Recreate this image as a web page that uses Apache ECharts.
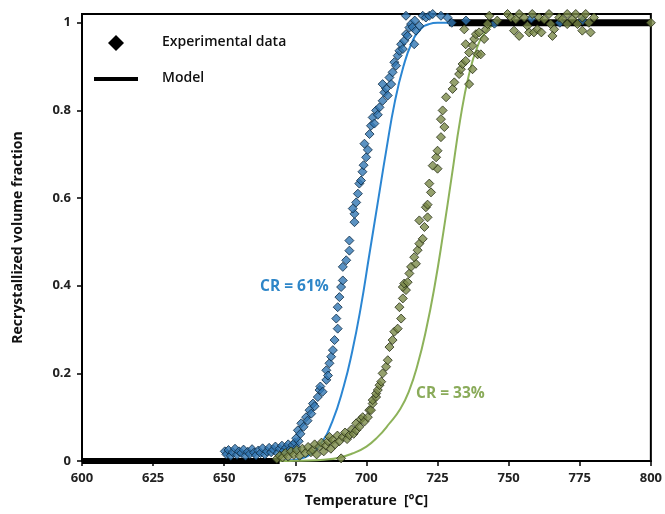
<!DOCTYPE html>
<html><head><meta charset="utf-8">
<script src="https://cdn.jsdelivr.net/npm/echarts@6/dist/echarts.min.js"></script>
<style>html,body{margin:0;padding:0;background:#fff}#c{width:665px;height:514px}</style>
</head><body><div id="c"></div>
<script>
const xTicks = [600,625,650,675,700,725,750,775,800];
const yTicks = [0,0.2,0.4,0.6,0.8,1];

const blueExp = [
[650.2,0.022],[650.8,0.015],[651.5,0.025],[652.3,0.012],[653.0,0.020],[653.8,0.028],[654.5,0.014],[655.2,0.022],[656.0,0.018],[656.8,0.026],[657.5,0.012],[658.3,0.021],[659.0,0.016],[659.8,0.027],[660.5,0.019],[661.2,0.013],[662.0,0.024],[662.8,0.018],[663.5,0.029],[664.3,0.015],[665.0,0.022],[665.8,0.030],[666.5,0.020],[667.3,0.026],[668.0,0.033],[668.8,0.018],[669.5,0.028],[670.3,0.035],[671.0,0.024],[671.8,0.031],[672.5,0.038],[673.3,0.027],[674.0,0.036],[674.8,0.042],[675.5,0.030],[676.2,0.045],
[675.3,0.052],[675.9,0.07],[676.8,0.062],[677.1,0.086],[677.9,0.078],[678.8,0.10],[679.3,0.092],[680.0,0.116],[680.6,0.108],[681.2,0.131],[681.8,0.125],[682.9,0.146],[683.5,0.162],[683.8,0.170],[684.6,0.158],[685.9,0.185],[685.9,0.207],[686.5,0.195],[687.0,0.223],[687.6,0.238],[688.2,0.253],[688.8,0.276],[689.4,0.325],[689.9,0.302],[689.9,0.351],[690.5,0.374],[691.1,0.397],[691.7,0.412],[691.7,0.443],[692.9,0.458],[694.0,0.48],[694.0,0.503],[695.8,0.545],[695.8,0.564],[695.2,0.576],[696.4,0.59],[697.0,0.61],[697.5,0.633],[698.1,0.64],[698.6,0.66],[699.0,0.675],[699.9,0.693],[700.5,0.71],[699.3,0.724],[701.1,0.746],[701.6,0.765],[702.2,0.784],[702.8,0.77],[703.4,0.80],[704.0,0.79],[704.6,0.807],[705.7,0.822],[706.3,0.841],[706.9,0.85],[707.5,0.834],[705.7,0.86],[708.1,0.875],[708.7,0.86],[709.2,0.887],[709.8,0.91],[710.4,0.902],[711.0,0.925],[711.6,0.936],[712.2,0.951],[712.8,0.94],[713.3,0.959],[713.9,0.974],[714.5,0.97],[715.1,0.989],[713.9,1.016],[715.7,0.997],[716.2,0.99],[716.8,0.951],[717.0,1.005],[717.4,0.982],[718.6,0.993],[719.8,1.016],[720.9,1.012],[722.1,1.016],[723.3,1.02],[726.2,1.016],[728.5,1.012],[730.0,1.0],
[735.0,1.005],[745.0,0.998],[758.0,1.01],[768.0,1.0],[776.0,1.005]
];

const greenExp = [
[668.5,0.005],[669.5,0.012],[670.5,0.008],[671.5,0.018],[672.5,0.010],[673.5,0.022],[674.5,0.014],[675.5,0.025],[676.5,0.012],[677.5,0.028],[678.5,0.018],[679.5,0.032],[680.5,0.020],[681.2,0.025],[681.8,0.038],[682.5,0.015],[683.5,0.033],[684.2,0.042],[685.0,0.022],[685.8,0.035],[686.5,0.045],[687.0,0.055],[687.5,0.028],[688.2,0.048],[689.0,0.038],[689.8,0.058],[690.5,0.045],[691.1,0.006],[691.7,0.055],[692.5,0.065],[693.2,0.050],[694.0,0.059],[694.8,0.072],[695.5,0.062],[696.4,0.070],[696.4,0.086],[697.5,0.078],[698.0,0.095],[698.7,0.100],[699.3,0.090],[700.5,0.100],[701.0,0.116],[701.6,0.116],[702.2,0.131],[702.2,0.139],[703.4,0.146],[703.4,0.154],[704.0,0.162],[704.6,0.173],[705.2,0.181],[705.7,0.200],[706.9,0.215],[707.5,0.230],[708.1,0.260],[709.2,0.276],[709.8,0.295],[711.0,0.302],[712.2,0.325],[711.6,0.351],[712.8,0.371],[713.9,0.390],[712.8,0.397],[713.3,0.405],[714.5,0.408],[715.1,0.428],[715.7,0.443],[717.4,0.450],[716.8,0.465],[718.0,0.481],[718.6,0.496],[719.8,0.507],[720.4,0.534],[718.6,0.549],[721.5,0.556],[720.9,0.579],[721.5,0.585],[722.7,0.613],[722.1,0.633],[725.0,0.667],[723.3,0.674],[724.5,0.693],[725.0,0.708],[726.2,0.739],[727.4,0.762],[726.2,0.780],[726.8,0.800],[728.0,0.830],[730.3,0.849],[730.9,0.864],[736.1,0.860],[732.6,0.883],[733.2,0.894],[737.3,0.894],[733.8,0.906],[734.9,0.913],[739.1,0.928],[740.2,0.928],[736.1,0.932],[734.9,0.951],[737.3,0.948],[741.4,0.963],[737.9,0.963],[738.5,0.974],[739.6,0.978],[734.4,0.985],[742.0,0.985],[742.6,0.997],[743.2,1.016],[746.0,1.005],
[749.6,1.02],[750.8,1.012],[752.5,1.008],[751.9,0.982],[753.7,0.97],[753.7,1.02],[755.5,1.012],[756.6,0.993],[757.2,0.978],[758.3,1.02],[758.9,0.978],[760.1,0.985],[760.7,1.012],[761.5,0.978],[762.5,1.008],[764.2,1.02],[764.8,0.997],[766.0,0.985],[765.4,0.97],[767.8,1.012],[768.9,1.008],[770.6,1.02],[770.6,0.997],[772.4,1.008],[773.6,1.02],[774.2,0.997],[775.9,1.012],[775.9,0.982],[777.1,1.02],[778.2,1.0],[778.8,0.978],[780.0,1.012],[800.0,1.0]
];

const blueModel = [[600,0],[668,0],[672,0.001],[676,0.004],[680,0.014],[684,0.04],[688,0.09],[692,0.17],[695,0.25],[698,0.35],[701,0.47],[704,0.59],[707,0.71],[710,0.82],[713,0.90],[716,0.955],[719,0.985],[722,0.997],[725,1.0],[729,1.0]];
const greenModel = [[600,0],[665,0],[670,0],[675,0.0005],[680,0.001],[685,0.003],[690,0.007],[695,0.017],[700,0.033],[704,0.055],[708,0.085],[712,0.12],[715,0.16],[718,0.22],[721,0.30],[724,0.40],[727,0.52],[730,0.65],[733,0.78],[736,0.88],[739,0.945],[742,0.98],[745,0.995],[750,1.0]];
const blackLow = [[600,0],[669.5,0]];
const blackHigh = [[729,1.0],[800,1.0]];

const FF = '"Open Sans", sans-serif';
const labelFont = {fontFamily:FF, fontWeight:'bold', fontSize:13, color:'#222'};
const chart = echarts.init(document.getElementById('c'));
chart.setOption({
  animation:false,
  backgroundColor:'#fff',
  grid:{left:82,right:13,top:14,bottom:53,show:true,borderColor:'#000',borderWidth:2,backgroundColor:'transparent'},
  xAxis:{type:'value',min:600,max:800,interval:25,
    name:'Temperature  [°C]',nameLocation:'middle',nameGap:33,
    nameTextStyle:{fontFamily:FF,fontWeight:'bold',fontSize:14,color:'#111'},
    axisLine:{lineStyle:{color:'#000',width:2}},
    axisTick:{show:true,length:5,lineStyle:{color:'#000',width:1.5},customValues:xTicks},
    axisLabel:Object.assign({margin:11,customValues:xTicks},labelFont),
    splitLine:{show:false}},
  yAxis:{type:'value',min:0,max:1.02,interval:0.2,
    name:'Recrystallized volume fraction',nameLocation:'middle',nameGap:57,
    nameTextStyle:{fontFamily:FF,fontWeight:'bold',fontSize:14,color:'#111'},
    axisLine:{lineStyle:{color:'#000',width:2}},
    axisTick:{show:true,length:5,lineStyle:{color:'#000',width:1.5},customValues:yTicks},
    axisLabel:Object.assign({margin:11,customValues:yTicks},labelFont),
    splitLine:{show:false}},
  series:[
    {type:'line',data:blueModel,symbol:'none',smooth:0.5,lineStyle:{color:'#2b86d3',width:2},z:2},
    {type:'line',data:greenModel,symbol:'none',smooth:0.5,lineStyle:{color:'#8db25a',width:2},z:2},
    {type:'line',data:blackLow,symbol:'none',clip:false,lineStyle:{color:'#000',width:6},z:3},
    {type:'line',data:blackHigh,symbol:'none',clip:false,lineStyle:{color:'#000',width:7},z:3},
    {type:'scatter',data:blueExp,symbol:'diamond',symbolSize:9,itemStyle:{color:'#3277b3',borderColor:'#0d2a44',borderWidth:1},z:4},
    {type:'scatter',data:greenExp,symbol:'diamond',symbolSize:9,itemStyle:{color:'#7a8a48',borderColor:'#262d14',borderWidth:1},z:5}
  ],
  graphic:[
    {type:'polygon',shape:{points:[[116,35],[124,43],[116,51],[108,43]]},style:{fill:'#000'},z:10},
    {type:'text',left:162,top:35,style:{text:'Experimental data',fontFamily:FF,fontWeight:600,fontSize:14,fill:'#111'},z:10},
    {type:'line',shape:{x1:94,y1:79,x2:138,y2:79},style:{stroke:'#000',lineWidth:4},z:10},
    {type:'text',left:162,top:71,style:{text:'Model',fontFamily:FF,fontWeight:600,fontSize:14,fill:'#111'},z:10},
    {type:'text',left:260,top:279,style:{text:'CR = 61%',fontFamily:FF,fontWeight:'bold',fontSize:15.5,fill:'#2e86c8'},z:10},
    {type:'text',left:416,top:386,style:{text:'CR = 33%',fontFamily:FF,fontWeight:'bold',fontSize:15.5,fill:'#8aab5a'},z:10}
  ]
});
</script></body></html>
